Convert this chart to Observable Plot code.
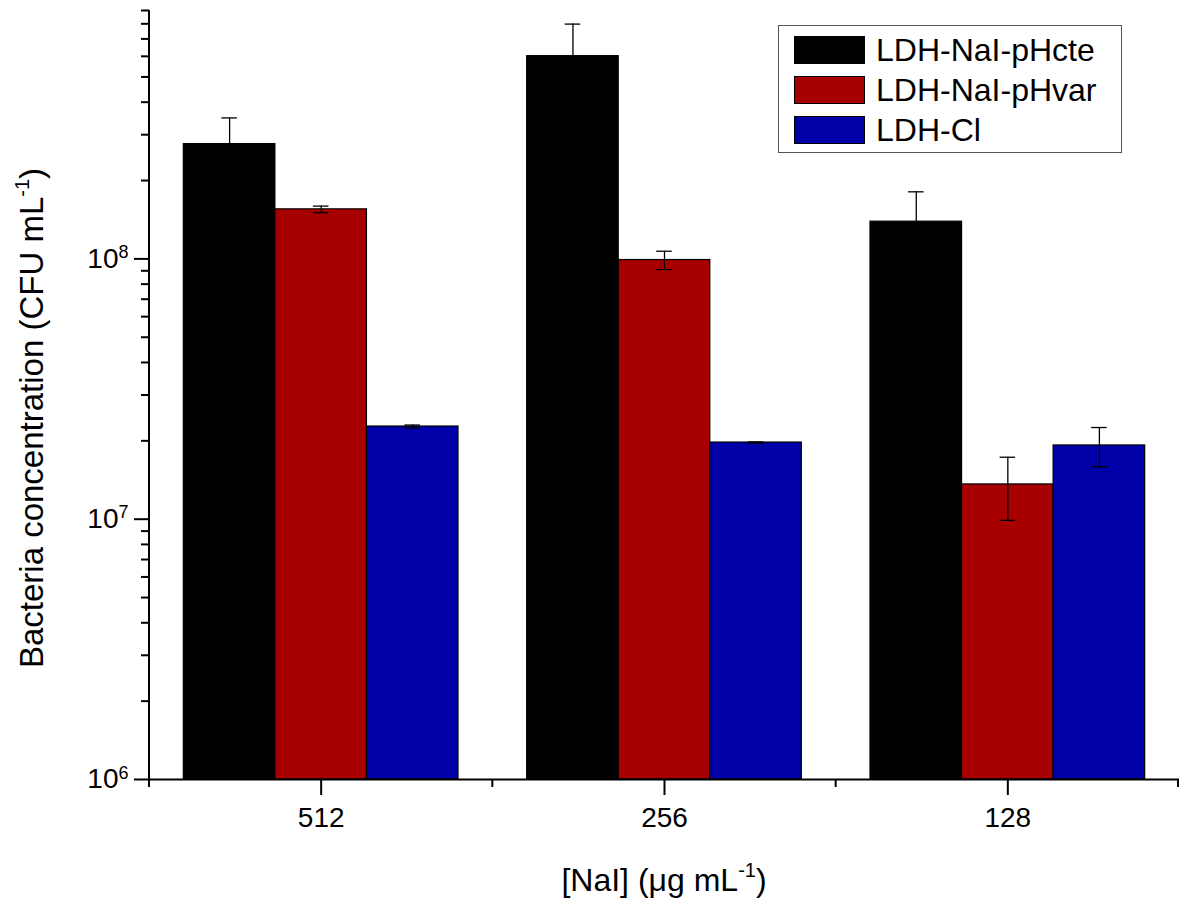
<!DOCTYPE html>
<html>
<head>
<meta charset="utf-8">
<script src="https://cdn.jsdelivr.net/npm/d3@7"></script>
<script src="https://cdn.jsdelivr.net/npm/@observablehq/plot@0.6"></script>
<style>
  html, body { margin: 0; padding: 0; background: #fff; overflow: hidden; }
  body { font-family: Arial, "Liberation Sans", sans-serif; }
  #wrap { position: relative; width: 1179px; height: 901px; }
  #legend { position: absolute; left: 778px; top: 25px; width: 344px; height: 128px;
            border: 1px solid #555; box-sizing: border-box; background: #fff; }
  .item { position: absolute; left: 15px; height: 28px; display: flex; align-items: center; }
  .sw { width: 71px; height: 28px; box-sizing: border-box; border: 1px solid #000; }
  .lab { margin-left: 11px; font-size: 32px; line-height: 28px; color: #000; white-space: nowrap; }
</style>
</head>
<body>
<div id="wrap"></div>
<script>
// ---- data ----
const groups = ["512", "256", "128"];
const series = ["LDH-NaI-pHcte", "LDH-NaI-pHvar", "LDH-Cl"];
const colors = ["#000000", "#a80000", "#0000a8"];
const pHcteValues = [2.76e8, 6.01e8, 1.39e8];
const pHcteErrors = [0.72e8, 1.97e8, 0.42e8];
const pHvarValues = [1.55e8, 0.99e8, 1.36e7];
const pHvarErrors = [0.045e8, 0.08e8, 0.37e7];
const clValues = [2.27e7, 1.97e7, 1.92e7];
const clErrors = [0.03e7, 0.01e7, 0.33e7];
const yMajorTicks = [1e6, 1e7, 1e8];
const yMinorTicks = [2e6,3e6,4e6,5e6,6e6,7e6,8e6,9e6,2e7,3e7,4e7,5e7,6e7,7e7,8e7,9e7,2e8,3e8,4e8,5e8,6e8,7e8,8e8,9e8];
const yDomain = [1e6, 9e8];

const values = [pHcteValues, pHvarValues, clValues];
const errors = [pHcteErrors, pHvarErrors, clErrors];
const rows = [];
groups.forEach((g, i) => series.forEach((s, j) => rows.push({group: g, series: s, value: values[j][i], err: errors[j][i]})));

// ---- layout ----
const W = 1179, H = 901, mL = 149, mR = 0, mT = 10, mB = 122;

const plot = Plot.plot({
  width: W, height: H,
  marginLeft: mL, marginRight: mR, marginTop: mT, marginBottom: mB,
  style: {fontFamily: "Arial, 'Liberation Sans', sans-serif", fontSize: "28px", background: "white", color: "black", overflow: "visible"},
  facet: {data: rows, x: "group"},
  fx: {domain: groups, padding: 0, paddingInner: 0, paddingOuter: 0, round: false, label: null, axis: null},
  x: {domain: series, paddingInner: 0, paddingOuter: 0.375, round: false, axis: null, label: null},
  y: {type: "log", domain: yDomain, label: null},
  color: {domain: series, range: colors},
  marks: [
    Plot.barY(rows, {x: "series", y1: 1e6, y2: "value", fill: "series", stroke: "black", strokeWidth: 1.2}),
    Plot.ruleX(rows, {x: "series", y1: d => d.value - d.err, y2: d => d.value + d.err, stroke: "black", strokeWidth: 1.3}),
    Plot.tickY(rows, {x: "series", y: d => d.value + d.err, stroke: "black", strokeWidth: 1.3, insetLeft: 38, insetRight: 38}),
    Plot.tickY(rows, {x: "series", y: d => d.value - d.err, stroke: "black", strokeWidth: 1.3, insetLeft: 38, insetRight: 38}),
    Plot.ruleY([1e6], {stroke: "black", strokeWidth: 2}),
    Plot.axisY({ticks: yMajorTicks, tickSize: 15, tickPadding: 6, strokeWidth: 2, fontSize: 28,
                tickFormat: d => "10^" + Math.round(Math.log10(d)), label: null}),
    Plot.axisY({ticks: yMinorTicks, tickSize: 8, strokeWidth: 2, tickFormat: () => "", label: null}),
    Plot.axisFx({anchor: "bottom", tickSize: 16, tickPadding: 12, strokeWidth: 2, fontSize: 28, label: null})
  ]
});

document.getElementById("wrap").appendChild(plot);
const svg = d3.select(plot.tagName.toLowerCase() === "svg" ? plot : plot.querySelector("svg"));

// superscript tick labels
svg.selectAll("text").each(function() {
  const t = d3.select(this);
  const m = /^10\^(\d+)$/.exec(this.textContent);
  if (m) {
    t.text(null);
    t.append("tspan").text("10");
    t.append("tspan").attr("font-size", 18).attr("dy", "-0.55em").text(m[1]);
  }
});

// y axis line and x minor ticks
const y0 = H - mB;
svg.append("line").attr("x1", mL).attr("x2", mL).attr("y1", mT).attr("y2", y0 + 8)
   .attr("stroke", "black").attr("stroke-width", 2);
const fw = (W - mL - mR) / groups.length;
for (let i = 0; i <= groups.length; i++) {
  const x = Math.min(mL + i * fw, W - 1);
  svg.append("line").attr("x1", x).attr("x2", x).attr("y1", y0).attr("y2", y0 + 8)
     .attr("stroke", "black").attr("stroke-width", 2);
}

// axis titles
const yt = svg.append("text").attr("transform", "translate(43,418) rotate(-90)")
  .attr("text-anchor", "middle").attr("font-size", 33).attr("fill", "black");
yt.append("tspan").text("Bacteria concentration (CFU mL");
yt.append("tspan").attr("font-size", 20).attr("dy", -14).text("-1");
yt.append("tspan").attr("dy", 14).text(")");

const xt = svg.append("text").attr("x", (mL + W - mR) / 2).attr("y", 891)
  .attr("text-anchor", "middle").attr("font-size", 32).attr("fill", "black");
xt.append("tspan").text("[NaI] (\u03bcg mL");
xt.append("tspan").attr("font-size", 20).attr("dy", -14).text("-1");
xt.append("tspan").attr("dy", 14).text(")");

// legend
const legend = document.createElement("div");
legend.id = "legend";
series.forEach((s, j) => {
  const it = document.createElement("div");
  it.className = "item";
  it.style.top = (10 + j * 40) + "px";
  const sw = document.createElement("div");
  sw.className = "sw"; sw.style.background = colors[j];
  const lb = document.createElement("span");
  lb.className = "lab"; lb.textContent = s;
  it.appendChild(sw); it.appendChild(lb);
  legend.appendChild(it);
});
document.getElementById("wrap").appendChild(legend);
</script>
</body>
</html>
